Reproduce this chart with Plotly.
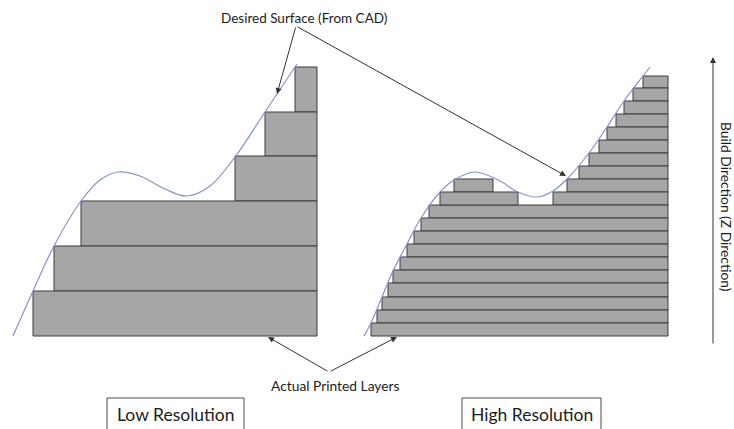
import plotly.graph_objects as go

# ---------------- data (diagram coordinates, y grows downward) ----------------
# Low resolution part: layer tops (top to bottom) and left edges
low_layer_tops = [67, 112, 156, 201, 246, 291]
low_layer_left = [295, 265, 235, 81, 54, 33]
low_right = 317
low_bottom = 336

# High resolution part: 20 thin layers
high_layer_tops = [76, 88, 101, 114, 127, 140, 153, 166, 179, 192,
                   205, 218, 231, 244, 257, 270, 283, 297, 310, 323]
high_layer_left = [643, 633, 624, 616, 607, 599, 589, 579, 567, 553,
                   429, 421, 414, 407, 400, 393, 388, 382, 377, 371]
high_right = 668
high_bottom = 336
# separate "island" segments under the hump
island_layer = [8, 9]
island_left = [454, 440]
island_right = [493, 518]

# Desired CAD surface (control points)
low_curve_x = [13, 33, 54, 81, 100, 118, 140, 165, 187, 210, 235, 265, 297]
low_curve_y = [336, 291, 246, 201, 180, 172, 176, 189, 196, 186, 157, 112, 64]
high_curve_x = [364, 371, 382, 393, 407, 421, 440, 454, 475, 500, 518, 537,
                553, 567, 589, 607, 624, 643, 650]
high_curve_y = [336, 323, 297, 271, 244, 218, 192, 180, 172, 181, 192, 197,
                191, 179, 153, 127, 101, 76, 67]

BAR_FILL = "#a6a6a6"
BAR_LINE = "#3c3c3c"
CURVE = "#8494c8"
INK = "#1c1c1c"
ARROW = "#333333"
FONT = "Lato"


def layer_bars(tops, lefts, right, bottom, name):
    bottoms = tops[1:] + [bottom]
    return go.Bar(
        orientation="h",
        y=[(t + b) / 2 for t, b in zip(tops, bottoms)],
        width=[b - t for t, b in zip(tops, bottoms)],
        base=lefts,
        x=[right - l for l in lefts],
        marker=dict(color=BAR_FILL, line=dict(color=BAR_LINE, width=1)),
        name=name, showlegend=False, hoverinfo="skip",
    )


fig = go.Figure()
fig.add_trace(layer_bars(low_layer_tops, low_layer_left, low_right, low_bottom, "low"))
fig.add_trace(layer_bars(high_layer_tops, high_layer_left, high_right, high_bottom, "high"))

hb = high_layer_tops[1:] + [high_bottom]
fig.add_trace(go.Bar(
    orientation="h",
    y=[(high_layer_tops[i] + hb[i]) / 2 for i in island_layer],
    width=[hb[i] - high_layer_tops[i] for i in island_layer],
    base=island_left,
    x=[r - l for l, r in zip(island_left, island_right)],
    marker=dict(color=BAR_FILL, line=dict(color=BAR_LINE, width=1)),
    showlegend=False, hoverinfo="skip",
))

for cx, cy in [(low_curve_x, low_curve_y), (high_curve_x, high_curve_y)]:
    fig.add_trace(go.Scatter(
        x=cx, y=cy, mode="lines",
        line=dict(color=CURVE, width=1.2, shape="spline", smoothing=1.0),
        showlegend=False, hoverinfo="skip",
    ))

def arrow(x0, y0, x1, y1):
    fig.add_annotation(x=x1, y=y1, ax=x0, ay=y0, xref="x", yref="y",
                       axref="x", ayref="y", text="", showarrow=True,
                       arrowhead=2, arrowsize=1.2, arrowwidth=1,
                       arrowcolor=ARROW)

# Desired surface pointers
arrow(296, 26, 277, 94)
arrow(296, 26, 566, 176)
# Actual printed layers pointers
arrow(329, 372, 268, 337)
arrow(329, 372, 397, 337)
# Build direction
arrow(713, 345, 713, 57)


def label(text, x, y, size, angle=0):
    fig.add_annotation(x=x, y=y, xref="x", yref="y", text=text,
                       showarrow=False, textangle=angle,
                       font=dict(family=FONT, size=size, color=INK))

label("Desired Surface (From CAD)", 304, 18, 13.5)
label("Actual Printed Layers", 335.5, 385, 13.8)
label("Build Direction (Z Direction)", 727, 207, 13.8, angle=90)
label("Low Resolution", 175.5, 414, 17.5)
label("High Resolution", 531.5, 414, 17.5)

for x0, x1 in [(107, 244), (462, 601)]:
    fig.add_shape(type="rect", x0=x0, x1=x1, y0=398, y1=433, xref="x", yref="y",
                  line=dict(color="#4a4a4a", width=1), fillcolor="rgba(0,0,0,0)")

fig.update_layout(
    width=734, height=429,
    margin=dict(l=0, r=0, t=0, b=0),
    paper_bgcolor="white", plot_bgcolor="white",
    barmode="overlay",
    xaxis=dict(range=[0, 734], visible=False, fixedrange=True),
    yaxis=dict(range=[429, 0], visible=False, fixedrange=True),
)

fig.write_html(
    "out.html",
    config={"displayModeBar": False, "staticPlot": True},
    post_script="document.body.style.margin='0';document.body.style.overflow='hidden';",
)
